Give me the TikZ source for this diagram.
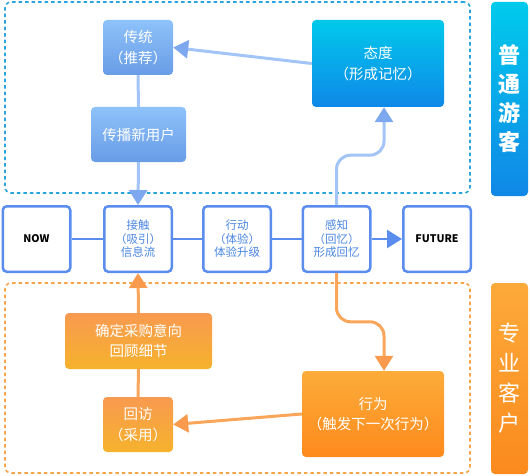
\documentclass[tikz,border=0pt]{standalone}
\usepackage{fontspec}
\setmainfont{Noto Sans CJK SC}
\usetikzlibrary{arrows.meta,calc}
\definecolor{midblue}{HTML}{5B8DEF}
\definecolor{midtext}{HTML}{4A86E0}
\definecolor{conblue}{HTML}{A3C4F7}
\definecolor{tipblue}{HTML}{7DA8F0}
\definecolor{conorange}{HTML}{F9A65A}
\definecolor{tiporange}{HTML}{F99A4C}
\definecolor{dashblue}{HTML}{2AA4DC}
\definecolor{dashorange}{HTML}{F7A54A}
\tikzset{
  midbox/.style={draw=midblue, line width=2.5pt, rounded corners=4pt, fill=white,
    minimum width=67.5pt, minimum height=65.5pt, inner sep=0pt, align=center,
    text=midtext, font=\fontsize{11.5}{13.5}\selectfont},
  endbox/.style={midbox, text=black, font=\fontsize{10.5}{12}\selectfont\bfseries},
  lbluebox/.style={rounded corners=4pt, top color={rgb,255:red,142;green,194;blue,250}, bottom color={rgb,255:red,104;green,156;blue,230},
    inner sep=0pt, align=center, text=white, font=\fontsize{14.5}{20.5}\selectfont},
  cyanbox/.style={rounded corners=4pt, top color={rgb,255:red,0;green,201;blue,235}, bottom color={rgb,255:red,15;green,136;blue,232},
    inner sep=0pt, align=center, text=white, font=\fontsize{14.5}{20.5}\selectfont},
  orgbox/.style={rounded corners=4pt, top color={rgb,255:red,248;green,154;blue,80}, bottom color={rgb,255:red,246;green,178;blue,44},
    inner sep=0pt, align=center, text=white, font=\fontsize{14.5}{20.5}\selectfont},
  deeporgbox/.style={rounded corners=4pt, top color={rgb,255:red,252;green,172;blue,58}, bottom color={rgb,255:red,253;green,138;blue,28},
    inner sep=0pt, align=center, text=white, font=\fontsize{14.5}{20.5}\selectfont},
  grpbox/.style={rounded corners=6pt, line width=1.6pt, dash pattern=on 3.5pt off 3pt, inner sep=0pt},
  sidelabel/.style={rounded corners=4pt, inner sep=0pt, align=center, text=white,
    minimum width=37pt, font=\fontsize{22}{29}\selectfont\bfseries},
  bluecon/.style={draw=conblue, line width=3pt},
  bluearrow/.style={bluecon, -{Triangle[width=18pt,length=15pt,color=tipblue]}},
  orgcon/.style={draw=conorange, line width=3pt},
  orgarrow/.style={orgcon, -{Triangle[width=18pt,length=15pt,color=tiporange]}},
  midcon/.style={draw=midblue, line width=2.5pt},
  midarrow/.style={midcon, -{Triangle[width=18pt,length=15pt]}}
}
\begin{document}
\begin{tikzpicture}[x=1pt,y=-1pt]
\useasboundingbox (0,0) rectangle (530,476);
% groups
\node[grpbox, draw=dashblue, minimum width=465pt, minimum height=191pt] (grpTop) at (237.5,97.5) {};
\node[grpbox, draw=dashorange, minimum width=465pt, minimum height=190pt] (grpBot) at (237.5,378) {};
% side labels
\node[sidelabel, minimum height=194pt, top color={rgb,255:red,0;green,202;blue,236}, bottom color={rgb,255:red,16;green,136;blue,230}] (labTop) at (509.5,99) {普\\通\\游\\客};
\node[sidelabel, minimum height=191pt, font=\fontsize{22}{30}\selectfont, top color={rgb,255:red,252;green,170;blue,58}, bottom color={rgb,255:red,251;green,138;blue,30}] (labBot) at (509.5,378.5) {专\\业\\客\\户};
% top boxes
\node[lbluebox, minimum width=70pt, minimum height=55pt] (trad) at (138,47.5) {传统\\（推荐）};
\node[lbluebox, minimum width=95pt, minimum height=55pt] (spread) at (138.5,134.5) {传播新用户};
\node[cyanbox, minimum width=132pt, minimum height=87pt] (attitude) at (378,63.5) {态度\\（形成记忆）};
% middle row
\node[endbox] (now) at (36.5,239) {NOW};
\node[midbox] (touch) at (138,239) {接触\\（吸引）\\信息流};
\node[midbox] (act) at (237,239) {行动\\（体验）\\体验升级};
\node[midbox] (perceive) at (336.5,239) {感知\\（回忆）\\形成回忆};
\node[endbox] (future) at (437,239) {FUTURE};
% bottom boxes
\node[orgbox, minimum width=147pt, minimum height=56pt] (confirm) at (138.5,341) {确定采购意向\\回顾细节};
\node[orgbox, minimum width=70pt, minimum height=55pt] (revisit) at (138,424.5) {回访\\（采用）};
\node[deeporgbox, minimum width=142pt, minimum height=86pt] (behavior) at (373,414) {行为\\（触发下一次行为）};
% middle connectors
\draw[midcon] (now) -- (touch);
\draw[midcon] (touch) -- (act);
\draw[midcon] (act) -- (perceive);
\draw[midarrow] (perceive) -- (future);
% top connectors
\draw[bluearrow] (attitude.west) -- (trad.east);
\draw[bluecon] (trad.south) -- (spread.north);
\draw[bluearrow] (spread.south) -- (touch.north);
\draw[bluearrow, rounded corners=14pt] (perceive.north) |- ($(attitude.south)+(6,48)$) -- ($(attitude.south)+(6,0)$);
% bottom connectors
\draw[orgarrow, rounded corners=14pt] (perceive.south) |- ($(behavior.north)+(11,-49)$) -- ($(behavior.north)+(11,0)$);
\draw[orgarrow] (behavior.west) -- (revisit.east);
\draw[orgcon] (revisit.north) -- (confirm.south);
\draw[orgarrow] (confirm.north) -- (touch.south);
\end{tikzpicture}
\end{document}
